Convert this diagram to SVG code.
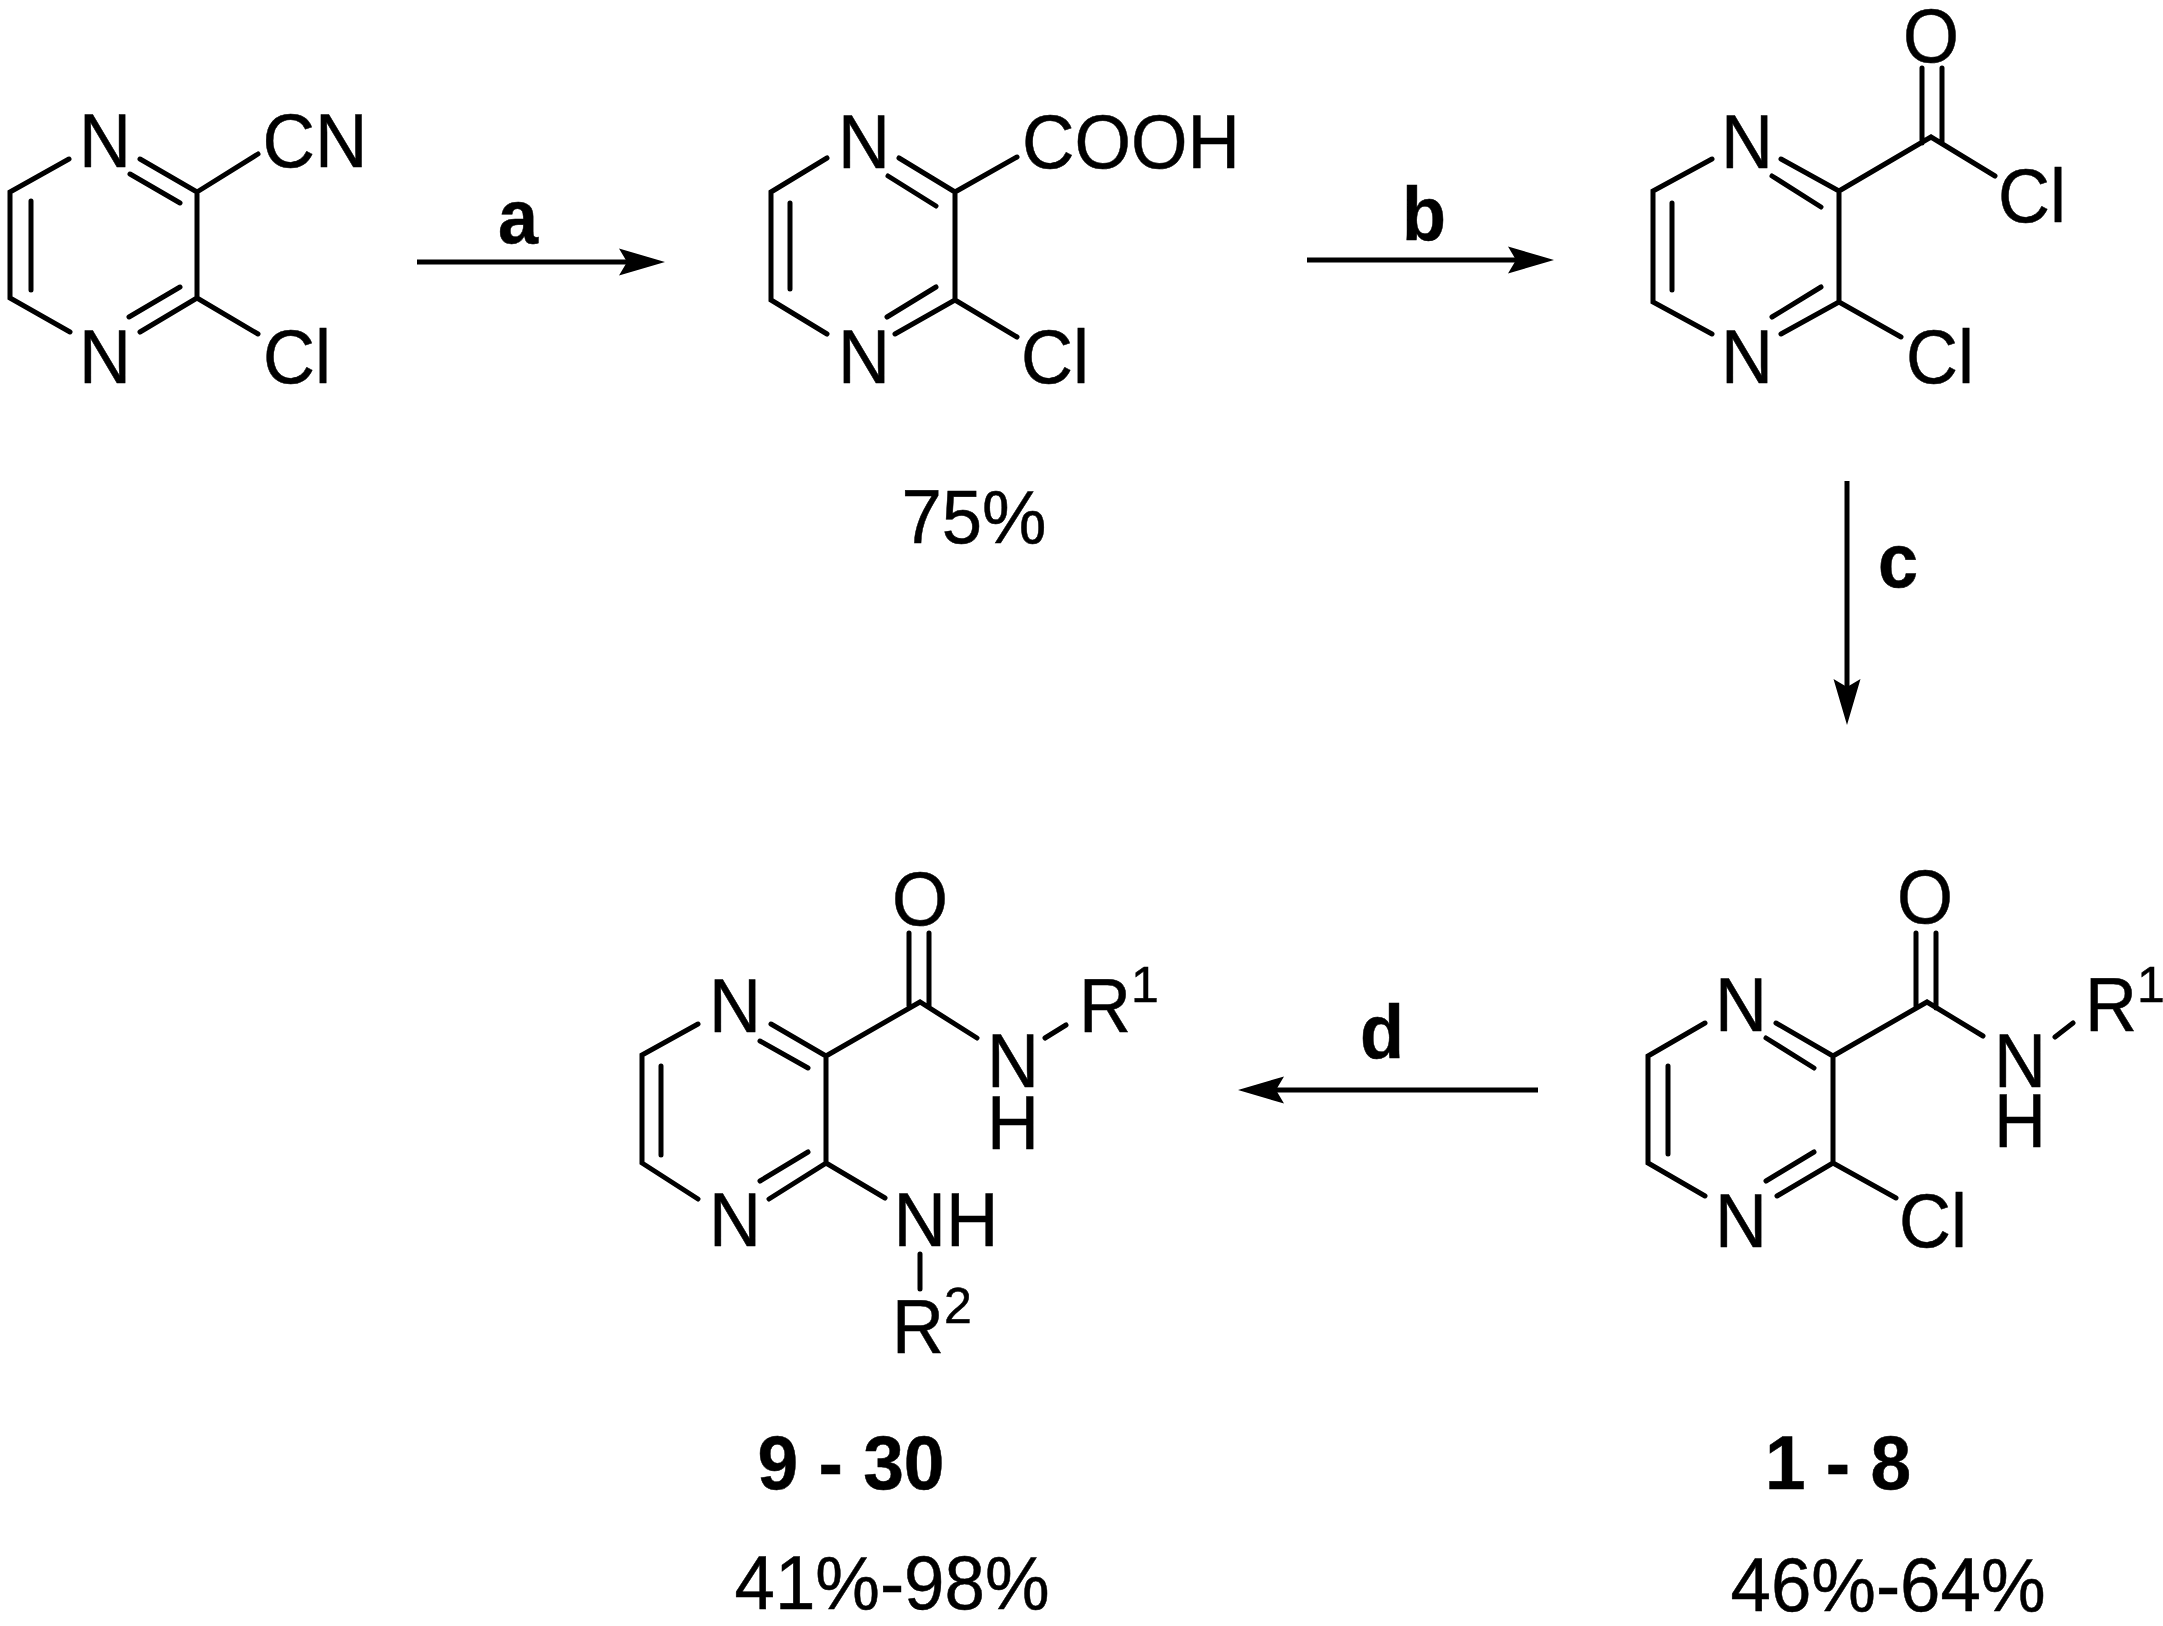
<svg xmlns="http://www.w3.org/2000/svg" width="2163" height="1626" viewBox="0 0 2163 1626">
<style>
.b{fill:none;stroke:#000;stroke-width:5;stroke-linecap:round;stroke-linejoin:miter}
.a{fill:none;stroke:#000;stroke-width:5;marker-end:url(#h)}
text{font-family:"Liberation Sans",Arial,sans-serif;font-size:76px;fill:#000;stroke:#000;stroke-width:.5;text-anchor:middle}
.s{font-size:50px;text-anchor:start}
.l{font-weight:bold}
</style>
<defs><marker id="h" markerUnits="userSpaceOnUse" markerWidth="46" markerHeight="28" refX="36" refY="14" orient="auto"><path d="M0,0.5L46,14L0,27.5L8,14Z" fill="#000"/></marker></defs>
<rect width="2163" height="1626" fill="#fff"/>
<g id="compound-nitrile">
<path class="b" d="M69,159L10,192V298L70,332M140,159L197,192V298L140,332M130,174L180,203M31,201V290M129,317L180,287M197,192L258,154M197,298L258,334"/>
<text x="105" y="167" textLength="52" lengthAdjust="spacingAndGlyphs">N</text><text x="105" y="383" textLength="52" lengthAdjust="spacingAndGlyphs">N</text>
<text x="315" y="167" textLength="105" lengthAdjust="spacingAndGlyphs">CN</text><text x="297" y="383" textLength="68" lengthAdjust="spacingAndGlyphs">Cl</text>
</g>
<g id="compound-acid">
<path class="b" d="M827,158L771,192V300L827,334M899,158L955,192V300L895,334M888,176L936,206M790,203V289M887,317L936,287M955,192L1017,157M955,300L1017,337"/>
<text x="864" y="168" textLength="52" lengthAdjust="spacingAndGlyphs">N</text><text x="864" y="383" textLength="52" lengthAdjust="spacingAndGlyphs">N</text>
<text x="1131" y="168" textLength="218" lengthAdjust="spacingAndGlyphs">COOH</text><text x="1055" y="383" textLength="68" lengthAdjust="spacingAndGlyphs">Cl</text>
<text x="974" y="543" textLength="145" lengthAdjust="spacingAndGlyphs">75%</text>
</g>
<g id="compound-acid-chloride">
<path class="b" d="M1712,159L1653,191V302L1712,334M1781,159L1839,191V302L1781,334M1772,176L1821,207M1672,203V290M1772,317L1821,287M1839,191L1931,137L1995,176M1839,302L1901,337M1922,68V143M1942,68V143"/>
<text x="1747" y="168" textLength="52" lengthAdjust="spacingAndGlyphs">N</text><text x="1747" y="383" textLength="52" lengthAdjust="spacingAndGlyphs">N</text>
<text x="1931" y="62" textLength="56" lengthAdjust="spacingAndGlyphs">O</text><text x="2032" y="222" textLength="68" lengthAdjust="spacingAndGlyphs">Cl</text><text x="1940" y="383" textLength="68" lengthAdjust="spacingAndGlyphs">Cl</text>
</g>
<g id="compound-1-8">
<path class="b" d="M1705,1023L1648,1056V1163L1705,1196M1776,1023L1833,1056V1163L1777,1196M1766,1038L1814,1068M1668,1066V1154M1766,1181L1814,1152M1833,1056L1927,1002L1983,1036M1833,1163L1896,1198M1916,933V1008M1936,933V1008M2055,1037L2073,1023"/>
<text x="1741" y="1031" textLength="52" lengthAdjust="spacingAndGlyphs">N</text><text x="1741" y="1247" textLength="52" lengthAdjust="spacingAndGlyphs">N</text>
<text x="1925" y="923" textLength="56" lengthAdjust="spacingAndGlyphs">O</text><text x="2020" y="1087" textLength="52" lengthAdjust="spacingAndGlyphs">N</text><text x="2020" y="1147" textLength="52" lengthAdjust="spacingAndGlyphs">H</text>
<text x="2111" y="1031" textLength="52" lengthAdjust="spacingAndGlyphs">R</text><text class="s" x="2137" y="1002">1</text>
<text x="1933" y="1247" textLength="68" lengthAdjust="spacingAndGlyphs">Cl</text>
<text class="l" x="1838" y="1489" textLength="146" lengthAdjust="spacingAndGlyphs">1 - 8</text>
<text x="1888" y="1611" textLength="315" lengthAdjust="spacingAndGlyphs">46%-64%</text>
</g>
<g id="compound-9-30">
<path class="b" d="M698,1024L642,1055V1163L698,1199M771,1024L826,1056V1163L769,1199M760,1041L808,1068M661,1066V1155M760,1181L808,1152M826,1056L920,1002L977,1038M826,1163L885,1198M909,933V1006M929,933V1006M1045,1038L1066,1025M920,1254V1289"/>
<text x="735" y="1032" textLength="52" lengthAdjust="spacingAndGlyphs">N</text><text x="735" y="1246" textLength="52" lengthAdjust="spacingAndGlyphs">N</text>
<text x="920" y="925" textLength="56" lengthAdjust="spacingAndGlyphs">O</text><text x="1013" y="1087" textLength="52" lengthAdjust="spacingAndGlyphs">N</text><text x="1013" y="1149" textLength="52" lengthAdjust="spacingAndGlyphs">H</text>
<text x="1105" y="1032" textLength="52" lengthAdjust="spacingAndGlyphs">R</text><text class="s" x="1131" y="1002">1</text>
<text x="946" y="1246" textLength="105" lengthAdjust="spacingAndGlyphs">NH</text>
<text x="918" y="1353" textLength="52" lengthAdjust="spacingAndGlyphs">R</text><text class="s" x="944" y="1323">2</text>
<text class="l" x="851" y="1489" textLength="187" lengthAdjust="spacingAndGlyphs">9 - 30</text>
<text x="892" y="1609" textLength="315" lengthAdjust="spacingAndGlyphs">41%-98%</text>
</g>
<g id="connectors">
<line class="a" x1="417" y1="262" x2="655" y2="262"/>
<line class="a" x1="1307" y1="260" x2="1544" y2="260"/>
<line class="a" x1="1847" y1="481" x2="1847" y2="715"/>
<line class="a" x1="1538" y1="1090" x2="1248" y2="1090"/>
<text class="l" x="518" y="243" textLength="40" lengthAdjust="spacingAndGlyphs">a</text>
<text class="l" x="1424" y="240" textLength="44" lengthAdjust="spacingAndGlyphs">b</text>
<text class="l" x="1898" y="587" textLength="40" lengthAdjust="spacingAndGlyphs">c</text>
<text class="l" x="1382" y="1058" textLength="44" lengthAdjust="spacingAndGlyphs">d</text>
</g>
</svg>
